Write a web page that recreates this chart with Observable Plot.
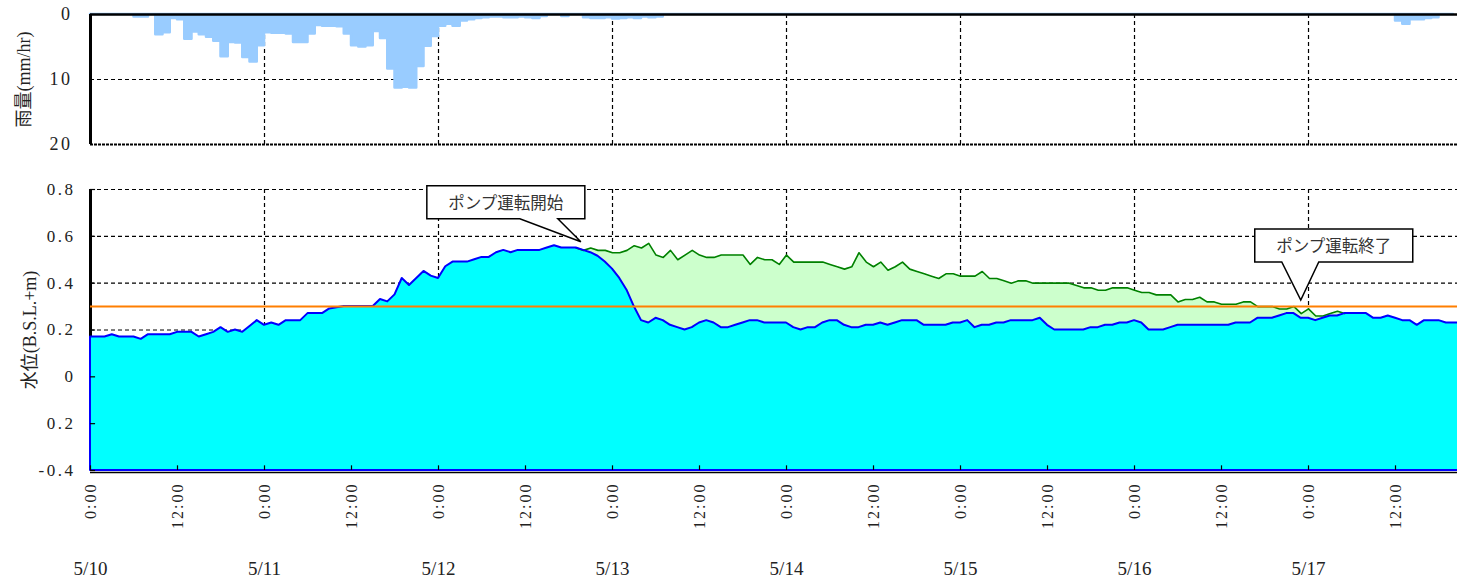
<!DOCTYPE html>
<html><head><meta charset="utf-8">
<script src="https://cdn.jsdelivr.net/npm/d3@7"></script>
<script src="https://cdn.jsdelivr.net/npm/@observablehq/plot@0.6"></script>
<style>
html,body{margin:0;padding:0;background:#fff;overflow:hidden;}
#chart svg{display:block;max-width:none !important;}
#chart svg, #chart svg text{font-family:"Liberation Serif","Noto Sans CJK JP",serif !important;}
#chart svg g[aria-label="callouts"] text{font-family:"Noto Sans CJK JP",sans-serif !important;}
g[aria-label="x-axis tick label"] text{letter-spacing:2px;}
g[aria-label="y-axis tick label"] text{letter-spacing:2.5px;}
</style></head><body><div id="chart"></div>
<script>
// ---------- data (hours since 5/10 0:00) ----------
const rainTitle = "雨量(mm/hr)";
const levelTitle = "水位(B.S.L.+m)";
const dayLabels = ["5/10","5/11","5/12","5/13","5/14","5/15","5/16","5/17"];
const dayStarts = [0,24,48,72,96,120,144,168];
const xTickHours = [0,12,24,36,48,60,72,84,96,108,120,132,144,156,168,180];
const rainTicks = [0,10,20];
const levelTicks = [-0.4,-0.2,0,0.2,0.4,0.6,0.8];
const levelTickLabels = ["-0.4","0.2","0","0.2","0.4","0.6","0.8"];
const pumpLevel = 0.3;

// hourly rainfall (mm/hr), from 5/10 0:00
const rain = [
  0,0,0,0,0,0,0.4,0.4,0,3.1,2.8,0.6,0.8,3.8,2.7,3.1,3.5,4.1,6.5,4.3,4.4,6.6,7.3,4.8,
  2.8,2.9,2.9,3.0,4.3,4.3,3.0,1.7,1.8,1.8,1.9,3.0,4.8,5.0,4.8,2.6,3.7,8.4,11.3,11.2,11.3,8.0,4.9,3.4,
  1.8,1.5,1.8,1.0,0.8,0.6,0.5,0.4,0.4,0.5,0.5,0.4,0.5,0.6,0.3,0,0,0.3,0,0,0.5,0.6,0.6,0.5,
  0.7,0.6,0.5,0.6,0.4,0.5,0.4,0,0,0,0,0,0,0,0,0,0,0,0,0,0,0,0,0,
  0,0,0,0,0,0,0,0,0,0,0,0,0,0,0,0,0,0,0,0,0,0,0,0,
  0,0,0,0,0,0,0,0,0,0,0,0,0,0,0,0,0,0,0,0,0,0,0,0,
  0,0,0,0,0,0,0,0,0,0,0,0,0,0,0,0,0,0,0,0,0,0,0,0,
  0,0,0,0,0,0,0,0,0,0,0,0,1.0,1.5,0.8,0.8,0.6,0.5,0,0,0
];

// hourly observed water level (blue), from 5/10 0:00
const levelObserved = [
  0.17,0.17,0.17,0.18,0.17,0.17,0.17,0.16,0.18,0.18,0.18,0.18,0.19,0.19,0.19,0.17,0.18,0.19,0.21,0.19,0.20,0.19,0.215,0.24,
  0.22,0.23,0.22,0.24,0.24,0.24,0.27,0.27,0.27,0.29,0.295,0.30,0.30,0.30,0.30,0.30,0.33,0.32,0.35,0.42,0.39,0.42,0.45,0.43,
  0.42,0.47,0.49,0.49,0.49,0.50,0.51,0.51,0.53,0.54,0.53,0.54,0.54,0.54,0.54,0.55,0.56,0.55,0.55,0.55,0.54,0.53,0.515,0.49,
  0.46,0.42,0.37,0.30,0.24,0.23,0.25,0.24,0.22,0.21,0.20,0.21,0.23,0.24,0.23,0.21,0.21,0.22,0.23,0.24,0.24,0.23,0.23,0.23,
  0.23,0.21,0.20,0.21,0.21,0.23,0.24,0.24,0.22,0.21,0.21,0.22,0.22,0.23,0.22,0.23,0.24,0.24,0.24,0.22,0.22,0.22,0.22,0.23,
  0.23,0.24,0.21,0.22,0.22,0.23,0.23,0.24,0.24,0.24,0.24,0.25,0.22,0.20,0.20,0.20,0.20,0.20,0.21,0.21,0.22,0.22,0.23,0.23,
  0.24,0.23,0.20,0.20,0.20,0.21,0.22,0.22,0.22,0.22,0.22,0.22,0.22,0.22,0.23,0.23,0.23,0.25,0.25,0.25,0.26,0.27,0.27,0.25,
  0.25,0.24,0.25,0.26,0.26,0.27,0.27,0.27,0.27,0.25,0.25,0.26,0.25,0.24,0.24,0.22,0.24,0.24,0.24,0.23,0.23,0.23
];

// hourly water level without pump (green), from 5/12 19:00 (hour 67)
const levelNoPumpStart = 67;
const levelNoPump = [
  0.55,0.54,0.55,0.54,0.54,
  0.53,0.53,0.54,0.56,0.55,0.57,0.52,0.51,0.54,0.50,0.52,0.54,0.52,0.51,0.51,0.52,0.52,0.52,0.52,0.48,0.51,0.50,0.50,0.48,
  0.52,0.49,0.49,0.49,0.49,0.49,0.48,0.47,0.46,0.47,0.53,0.49,0.47,0.49,0.455,0.47,0.49,0.46,0.45,0.44,0.43,0.42,0.44,0.44,
  0.43,0.43,0.43,0.45,0.42,0.42,0.41,0.40,0.41,0.41,0.40,0.40,0.40,0.40,0.40,0.40,0.39,0.38,0.38,0.37,0.37,0.38,0.38,0.38,
  0.37,0.36,0.36,0.35,0.35,0.35,0.32,0.33,0.33,0.34,0.32,0.32,0.31,0.31,0.31,0.32,0.32,0.30,0.30,0.30,0.29,0.29,0.30,0.27,
  0.29,0.26,0.26,0.27,0.28,0.27
];

const calloutLabels = ["ポンプ運転開始","ポンプ運転終了"];
const calloutHours = [67.7, 167];
const calloutLevels = [0.575, 0.326];

// ---------- tables built from the arrays ----------
const rainRows = rain.map((r, h) => ({hour: h, rain: r}));
const blueRows = levelObserved.map((v, h) => ({hour: h, level: v}));
const greenRows = levelNoPump.map((v, i) => ({hour: levelNoPumpStart + i, green: v, blue: levelObserved[levelNoPumpStart + i]}));

// ---------- styling ----------
const W = 1457, X_END = 188.55;
const DASH = "4,3";
const baseStyle = {color: "#222", background: "#fff", overflow: "visible"};

const topPlot = Plot.plot({
  width: W, height: 150, marginLeft: 90, marginRight: 0, marginTop: 14, marginBottom: 6,
  style: {...baseStyle, fontSize: "18px"},
  x: {domain: [0, X_END], axis: null},
  y: {domain: [0, 20], reverse: true, axis: null},
  marks: [
    Plot.ruleY([10], {stroke: "#000", strokeDasharray: DASH, strokeWidth: 1.2}),
    Plot.ruleX(dayStarts.slice(1), {stroke: "#000", strokeDasharray: DASH, strokeWidth: 1.2}),
    Plot.areaY(rainRows, {x: "hour", y: "rain", curve: "step-after", fill: "#99ccff", stroke: "#99ccff", strokeWidth: 2.5, strokeLinejoin: "round"}),
    Plot.ruleY([0], {stroke: "#000", strokeWidth: 2.5}),
    Plot.ruleY([20], {stroke: "#000", strokeWidth: 2, strokeDasharray: "3,1"}),
    Plot.ruleX([0], {stroke: "#000", strokeWidth: 3}),
    Plot.axisY({ticks: rainTicks, label: null, tickSize: 0, tickPadding: 18, fontSize: 18, fill: "#222"}),
    Plot.text([rainTitle], {text: d => d, frameAnchor: "left", textAnchor: "middle", dx: -66, rotate: -90, fontSize: 18, fill: "#222"})
  ]
});

const bottomPlot = Plot.plot({
  width: W, height: 429, marginLeft: 90, marginRight: 0, marginTop: 39, marginBottom: 109,
  style: {...baseStyle, fontSize: "17px"},
  x: {domain: [0, X_END], axis: null},
  y: {domain: [-0.4, 0.8], axis: null},
  marks: [
    Plot.ruleY([0.2, 0.4, 0.6, 0.8], {stroke: "#000", strokeDasharray: DASH, strokeWidth: 1.2}),
    Plot.ruleX(dayStarts.slice(1), {stroke: "#000", strokeDasharray: DASH, strokeWidth: 1.2}),
    Plot.ruleX([0], {stroke: "#000", strokeWidth: 3}),
    Plot.areaY(blueRows, {x: "hour", y1: -0.4, y2: "level", fill: "#00ffff"}),
    Plot.areaY(greenRows, {x: "hour", y1: "blue", y2: "green", fill: "#ccffcc"}),
    Plot.line(greenRows, {x: "hour", y: "green", stroke: "#008000", strokeWidth: 1.6}),
    Plot.areaY(blueRows, {x: "hour", y1: -0.4, y2: "level", fill: "none", stroke: "#0000ff", strokeWidth: 2}),
    Plot.ruleY([pumpLevel], {stroke: "#ff7f00", strokeWidth: 2}),
    Plot.ruleY([-0.4], {stroke: "#000", strokeWidth: 1.5, dy: 2}),
    Plot.ruleX(xTickHours, {y1: -0.4, y2: -0.38, stroke: "#000", strokeWidth: 1.2}),
    Plot.ruleY(levelTicks, {x1: 0, x2: 0.7, stroke: "#000", strokeWidth: 1.2}),
    Plot.axisY({ticks: levelTicks, label: null, tickFormat: d => levelTickLabels[levelTicks.indexOf(d)], tickSize: 0, tickPadding: 15, fontSize: 17, fill: "#222"}),
    Plot.axisX({ticks: xTickHours, label: null, tickFormat: h => (h % 24 === 0 ? "0:00" : "12:00"), tickRotate: -90, tickSize: 0, tickPadding: 12, fontSize: 16, fill: "#222"}),
    Plot.text(dayStarts, {x: d => d, text: (d, i) => dayLabels[i], frameAnchor: "bottom", dy: 104, fontSize: 19, fill: "#222"}),
    Plot.text([levelTitle], {text: d => d, frameAnchor: "left", textAnchor: "middle", dx: -60, rotate: -90, fontSize: 18, fill: "#222"})
  ]
});

// ---------- callouts, positioned through the plot's scales ----------
const calloutLayout = [
  {left: -154, top: -56, w: 158, h: 33, tailL: -61, tailR: -23},
  {left: -46, top: -71, w: 158, h: 33, tailL: -19, tailR: 18}
];
(function drawCallouts() {
  const sx = bottomPlot.scale("x"), sy = bottomPlot.scale("y");
  const fx = sx.apply ? v => sx.apply(v) : d3.scaleLinear(sx.domain, sx.range);
  const fy = sy.apply ? v => sy.apply(v) : d3.scaleLinear(sy.domain, sy.range);
  const g = d3.select(bottomPlot).append("g").attr("aria-label", "callouts");
  calloutLabels.forEach((label, i) => {
    const L = calloutLayout[i];
    const tx = fx(calloutHours[i]), ty = fy(calloutLevels[i]);
    const x0 = tx + L.left, y0 = ty + L.top, x1 = x0 + L.w, y1 = y0 + L.h;
    g.append("path")
      .attr("d", `M${x0},${y0}H${x1}V${y1}H${tx + L.tailR}L${tx},${ty}L${tx + L.tailL},${y1}H${x0}Z`)
      .attr("fill", "#fff").attr("stroke", "#000").attr("stroke-width", 1.5).attr("stroke-linejoin", "miter");
    g.append("text")
      .attr("x", (x0 + x1) / 2).attr("y", (y0 + y1) / 2)
      .attr("text-anchor", "middle").attr("dominant-baseline", "central")
      .attr("font-size", 16.5)
      .attr("fill", "#333").text(label);
  });
})();

const chart = document.getElementById("chart");
chart.appendChild(topPlot);
chart.appendChild(bottomPlot);
</script></body></html>
